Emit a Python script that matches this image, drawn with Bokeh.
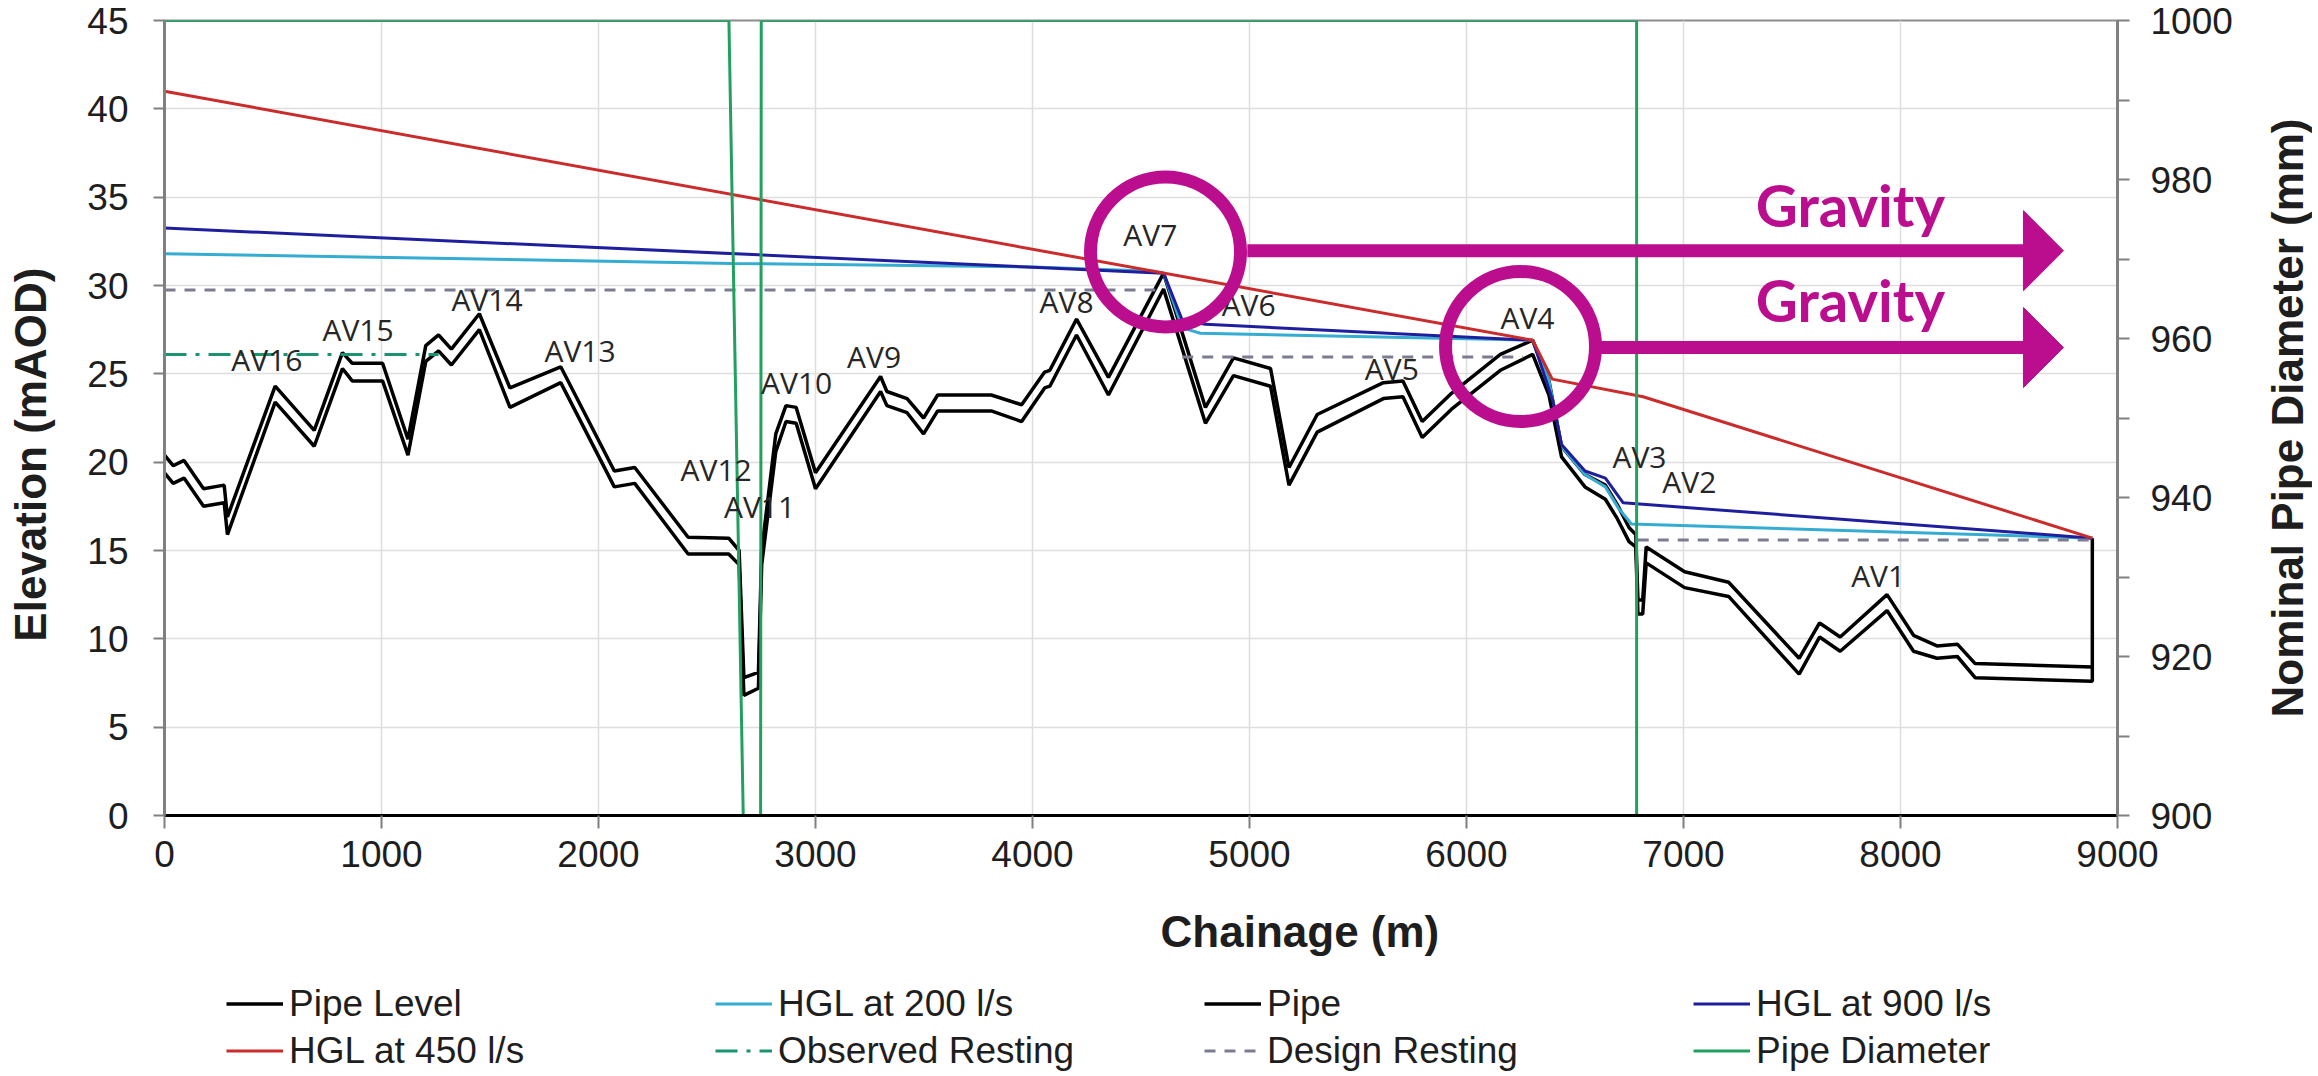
import math
from bokeh.plotting import figure
from bokeh.layouts import row, column
from bokeh.models import Range1d, LinearAxis, FixedTicker, Legend, LegendItem
from bokeh.core.properties import value
from bokeh.embed import file_html
from bokeh.resources import INLINE

NaN = float("nan")
NB = "\u00a0"

# ---------------- data ----------------
pipe_level_ch = [0, 40, 90, 180, 275, 290, 510, 690, 820, 865, 1005, 1122, 1204, 1263, 1322, 1451,
                 1592, 1826, 2073, 2167, 2413, 2600, 2648, 2670, 2737, 2752, 2817, 2864, 2911, 3000,
                 3300, 3329, 3422, 3498, 3563, 3810, 3950, 4056, 4080, 4203, 4350, 4604, 4797, 4926,
                 5097, 5182, 5312, 5617, 5707, 5796, 5931, 6156, 6305, 6380, 6438, 6546, 6640, 6695,
                 6749, 6780, 6790, 6812, 6828, 7005, 7208, 7533, 7627, 7722, 7938, 8060, 8168, 8262,
                 8344, 8884]
pipe_level_el = [20.4, 19.8, 20.1, 18.5, 18.7, 16.9, 24.3, 21.8, 26.2, 25.6, 25.6, 21.3, 26.6, 27.2,
                 26.4, 28.4, 24.2, 25.4, 19.5, 19.7, 15.75, 15.7, 15.0, 7.8, 8.1, 15.0, 21.6, 23.2,
                 23.1, 19.4, 24.85, 24.0, 23.6, 22.5, 23.8, 23.8, 23.25, 25.1, 25.2, 28.1, 24.8, 30.7,
                 23.1, 25.9, 25.3, 19.7, 22.7, 24.5, 24.6, 22.3, 23.9, 26.1, 26.9, 24.6, 20.9, 19.3,
                 18.7, 17.6, 16.3, 15.9, 12.2, 12.2, 15.2, 13.8, 13.2, 8.9, 10.9, 10.1, 12.5, 10.2,
                 9.6, 9.7, 8.6, 8.4]

pipe_ch = pipe_level_ch + [8884]
pipe_el = [19.4, 18.8, 19.1, 17.5, 17.7, 15.9, 23.4, 20.9, 25.3, 24.6, 24.6, 20.4, 25.7, 26.3, 25.5,
           27.5, 23.1, 24.5, 18.6, 18.8, 14.8, 14.8, 14.2, 6.8, 7.2, 14.2, 20.6, 22.3, 22.2, 18.5,
           24.0, 23.2, 22.8, 21.6, 22.9, 22.9, 22.3, 24.2, 24.3, 27.2, 23.8, 29.8, 22.2, 24.9, 24.3,
           18.7, 21.7, 23.6, 23.7, 21.4, 23.0, 25.2, 26.1, 23.8, 20.3, 18.6, 17.9, 16.8, 15.5, 15.2,
           11.4, 11.4, 14.3, 12.9, 12.4, 8.0, 10.1, 9.3, 11.6, 9.3, 8.9, 9.0, 7.8, 7.6, 15.7]

hgl450_ch = [0, 6305, 6395, 6814, 8884]
hgl450_el = [41.0, 26.9, 24.7, 23.7, 15.7]

hgl900_ch = [0, 4604, 4690, 4796, 6305, 6397, 6438, 6546, 6640, 6722, 8884]
hgl900_el = [33.25, 30.7, 28.05, 27.8, 26.9, 23.5, 21.0, 19.5, 19.1, 17.7, 15.7]

hgl200_ch = [0, 2613, 4002, 4560, 4604, 4690, 4774, 6305, 6380, 6438, 6546, 6640, 6700, 6760, 8884]
hgl200_el = [31.8, 31.25, 31.05, 30.8, 30.7, 27.6, 27.3, 26.9, 24.6, 20.9, 19.3, 18.6, 17.4, 16.5, 15.7]

design_ch = [0, 4566, NaN, 4690, 6260, NaN, 6789, 8884]
design_el = [29.75, 29.75, NaN, 25.95, 25.95, NaN, 15.6, 15.6]

observed_ch = [0, 1263]
observed_el = [26.1, 26.1]

diam_ch = [0, 2601, 2667, 2747, 2750, 6784, 6784, 8884]
diam_mm = [1000, 1000, 900, 900, 1000, 1000, 900, 900]

av_names = ["AV16", "AV15", "AV14", "AV13", "AV12", "AV11", "AV10", "AV9", "AV8", "AV7",
            "AV6", "AV5", "AV4", "AV3", "AV2", "AV1"]
av_ch = [472, 892, 1486, 1915, 2542, 2742, 2913, 3270, 4157, 4543, 4996, 5656, 6281, 6797, 7027, 7897]
av_el = [25.8, 27.5, 29.2, 26.3, 19.6, 17.5, 24.5, 26.0, 29.1, 32.9, 28.9, 25.3, 28.2, 20.3, 18.9, 13.6]

# annotation: circles, arrows and "Gravity" notes
circle_ch = [4613, 6249]
circle_el = [31.9, 26.55]
arrow_start_ch = [4990, 6618]
arrow_tip_ch = [8751, 8751]
arrow_el = [31.97, 26.49]
gravity_text = ["Gravity", "Gravity"]
gravity_ch = [7769, 7769]
gravity_el = [34.6, 29.2]

x_ticks = list(range(0, 9001, 1000))
y_ticks = list(range(0, 46, 5))
d_ticks = list(range(900, 1001, 20))
d_minor = list(range(910, 1000, 20))

# series: name, data, style (legend order)
series = [
    ("Pipe Level", pipe_level_ch, pipe_level_el, dict(line_color="black", line_width=3.5)),
    ("HGL at 200 l/s", hgl200_ch, hgl200_el, dict(line_color="#35acd2", line_width=3)),
    ("Pipe", pipe_ch, pipe_el, dict(line_color="black", line_width=3.5)),
    ("HGL at 900 l/s", hgl900_ch, hgl900_el, dict(line_color="#1f1f9e", line_width=3)),
    ("HGL at 450 l/s", hgl450_ch, hgl450_el, dict(line_color="#cc2b2b", line_width=3)),
    ("Observed Resting", observed_ch, observed_el,
     dict(line_color="#1a9470", line_width=3, line_dash="22 9 4 9")),
    ("Design Resting", design_ch, design_el,
     dict(line_color="#7c7c90", line_width=3, line_dash="11 9")),
    ("Pipe Diameter", diam_ch, diam_mm, dict(line_color="#22a060", line_width=3)),
]

# ---------------- figure ----------------
FW, FH = 1953, 795
MAG = "#bb0e8e"
TXT = "#1e1e1e"
FONT = "Liberation Sans"
TOP, BOTTOM = 20, 150

p = figure(frame_width=FW, frame_height=FH, x_range=Range1d(0, 9000), y_range=Range1d(0, 45),
           output_backend="svg", toolbar_location=None,
           min_border_left=164, min_border_right=130, min_border_top=TOP, min_border_bottom=BOTTOM,
           background_fill_color="white", border_fill_color="white")
p.extra_y_ranges = {"diam": Range1d(900, 1000)}
p.outline_line_color = "#8c8c8c"
p.outline_line_width = 2

xt = FixedTicker(ticks=x_ticks)
yt = FixedTicker(ticks=y_ticks)
p.xaxis.ticker = xt
p.yaxis.ticker = yt
p.xgrid.ticker = xt
p.ygrid.ticker = yt
for g in (p.xgrid, p.ygrid):
    g.grid_line_color = "#dedede"
    g.grid_line_width = 1.5

for ax in (p.xaxis, p.yaxis):
    ax.major_label_text_font = FONT
    ax.major_label_text_font_size = "37px"
    ax.major_label_text_color = TXT
    ax.major_tick_line_color = "#808080"
    ax.major_tick_line_width = 2
    ax.major_tick_in = 0
    ax.minor_tick_line_color = None
    ax.axis_label_text_font = FONT
    ax.axis_label_text_font_style = "bold"
    ax.axis_label_text_font_size = "44px"
    ax.axis_label_text_color = TXT

p.xaxis.axis_line_color = "black"
p.xaxis.axis_line_width = 3
p.xaxis.major_tick_out = 13
p.xaxis.major_label_standoff = 12
# leading no-break spaces shift the centred title to the right, as in the reference
p.xaxis.axis_label = NB * 26 + "Chainage (m)"
p.xaxis.axis_label_standoff = 37

p.yaxis.axis_line_color = "#808080"
p.yaxis.axis_line_width = 3
p.yaxis.major_tick_out = 11
p.yaxis.major_label_standoff = 25
p.yaxis.axis_label = "Elevation (mAOD)" + NB * 6
p.yaxis.axis_label_standoff = 29

raxis = LinearAxis(y_range_name="diam",
                   ticker=FixedTicker(ticks=d_ticks, minor_ticks=d_minor))
raxis.major_label_text_font = FONT
raxis.major_label_text_font_size = "37px"
raxis.major_label_text_color = TXT
raxis.axis_line_color = "#808080"
raxis.axis_line_width = 3
raxis.major_tick_line_color = "#808080"
raxis.major_tick_line_width = 2
raxis.major_tick_in = 0
raxis.major_tick_out = 12
raxis.minor_tick_line_color = "#808080"
raxis.minor_tick_line_width = 2
raxis.minor_tick_in = 0
raxis.minor_tick_out = 12
raxis.major_label_standoff = 21
p.add_layout(raxis, "right")

# ---------------- series ----------------
for name, xs, ys, st in series:
    if name == "Pipe Diameter":
        p.line(xs, ys, y_range_name="diam", **st)
    else:
        p.line(xs, ys, **st)

p.text(x=av_ch, y=av_el, text=av_names, text_font=value("Open Sans"), text_font_size=value("30px"),
       text_align="center", text_baseline="middle", text_color="#262626")

# circles and gravity arrows
p.scatter(x=circle_ch, y=circle_el, marker="circle", size=150, fill_color=None,
          line_color=MAG, line_width=13)
head_len = 40 * 9000 / FW
head_half = 40 * 45 / FH
base_ch = [t - head_len for t in arrow_tip_ch]
p.segment(x0=arrow_start_ch, y0=arrow_el, x1=base_ch, y1=arrow_el, line_color=MAG,
          line_width=13, line_cap="butt")
p.patches(xs=[[b, t, b] for b, t in zip(base_ch, arrow_tip_ch)],
          ys=[[y + head_half, y, y - head_half] for y in arrow_el],
          fill_color=MAG, line_color=MAG, line_width=1)
p.text(x=gravity_ch, y=gravity_el, text=gravity_text, text_font=value("Lato"),
       text_font_style="bold", text_font_size=value("58px"), text_color=MAG,
       text_align="center", text_baseline="middle")

# ---------------- right-hand axis title (reads bottom to top) ----------------
p2 = figure(frame_width=1, frame_height=FH, x_range=Range1d(0, 1), y_range=Range1d(0, 1),
            output_backend="svg", toolbar_location=None,
            min_border_left=64, min_border_right=0, min_border_top=TOP, min_border_bottom=BOTTOM,
            background_fill_color="white", border_fill_color="white")
p2.outline_line_color = None
p2.xaxis.visible = False
p2.xgrid.visible = False
p2.ygrid.visible = False
p2.yaxis.ticker = FixedTicker(ticks=[])
p2.yaxis.axis_line_color = None
p2.yaxis.major_tick_line_color = None
p2.yaxis.minor_tick_line_color = None
p2.yaxis.major_tick_out = 0
p2.yaxis.minor_tick_out = 0
p2.yaxis.major_label_standoff = 0
p2.yaxis.axis_label = "Nominal Pipe Diameter (mm)"
p2.yaxis.axis_label_standoff = 0
p2.yaxis.axis_label_text_font = FONT
p2.yaxis.axis_label_text_font_style = "bold"
p2.yaxis.axis_label_text_font_size = "44px"
p2.yaxis.axis_label_text_color = TXT

# ---------------- legend strip below the chart ----------------
# The strip repeats the series with ranges that keep the lines themselves out of view,
# so only their legend keys are drawn.
LH = 109
p3 = figure(frame_width=FW, frame_height=LH, x_range=Range1d(0, 9000), y_range=Range1d(-20, -10),
            x_axis_type=None, y_axis_type=None, output_backend="svg", toolbar_location=None,
            min_border_left=164, min_border_right=195, min_border_top=0, min_border_bottom=0,
            background_fill_color="white", border_fill_color="white")
p3.outline_line_color = None
items = []
for name, xs, ys, st in series:
    r = p3.line(xs, ys, **st)
    items.append(LegendItem(label=name, renderers=[r]))
legend = Legend(items=items, location=(62, 0), orientation="horizontal", ncols=4,
                glyph_width=57, glyph_height=47, label_height=47, label_width=426,
                label_standoff=6, spacing=0, padding=0, margin=0,
                border_line_color=None, background_fill_alpha=0,
                label_text_font=FONT, label_text_font_size="37px",
                label_text_color=TXT)
p3.add_layout(legend, "center")

layout = column(row(p, p2), p3)
open("out.html", "w").write(file_html(layout, INLINE))
